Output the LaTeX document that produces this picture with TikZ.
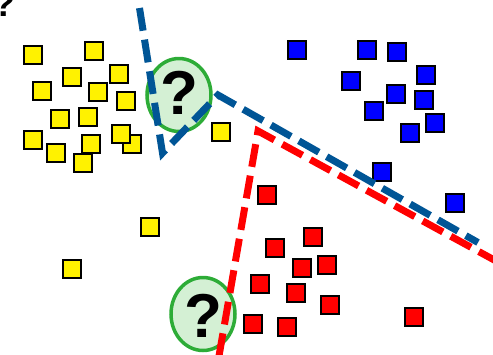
\documentclass[tikz,border=0pt]{standalone}
\usepackage{fontspec}
\setmainfont{Liberation Sans}
\usetikzlibrary{shapes.geometric}
\definecolor{bline}{RGB}{0,85,150}
\definecolor{qgreen}{RGB}{45,172,55}
\definecolor{qfill}{RGB}{212,240,212}
\begin{document}
\begin{tikzpicture}[x=1pt,y=-1pt,
  sq/.style={rectangle,draw=black,line width=2pt,minimum size=18pt,inner sep=0pt},
  ysq/.style={sq,fill=yellow},
  bsq/.style={sq,fill=blue},
  rsq/.style={sq,fill=red},
  guess/.style={ellipse,draw=qgreen,fill=qfill,line width=3.5pt,minimum width=64pt,minimum height=73pt,inner sep=0pt},
  qmark/.style={font=\fontsize{62}{62}\selectfont\bfseries,inner sep=0pt},
  bound/.style={line width=7pt,dash pattern=on 23pt off 9pt},
]
\useasboundingbox (0,0) rectangle (493,354);
% yellow squares
\node[ysq] (y1) at (33,55) {};
\node[ysq] (y2) at (94,51) {};
\node[ysq] (y3) at (72,77) {};
\node[ysq] (y4) at (119,74) {};
\node[ysq] (y5) at (42,91) {};
\node[ysq] (y6) at (98,92) {};
\node[ysq] (y7) at (126,101) {};
\node[ysq] (y8) at (60,119) {};
\node[ysq] (y9) at (88,117) {};
\node[ysq] (y10) at (33,140) {};
\node[ysq] (y11) at (56,153) {};
\node[ysq] (y12) at (91,144) {};
\node[ysq] (y13) at (83,163) {};
\node[ysq] (y14) at (132,144) {};
\node[ysq] (y15) at (121,134) {};
\node[ysq] (y16) at (221,132) {};
\node[ysq] (y17) at (150,227) {};
\node[ysq] (y18) at (72,269) {};
% blue squares
\node[bsq] (b1) at (297,50) {};
\node[bsq] (b2) at (367,50) {};
\node[bsq] (b3) at (397,52) {};
\node[bsq] (b4) at (426,75) {};
\node[bsq] (b5) at (351,81) {};
\node[bsq] (b6) at (396,94) {};
\node[bsq] (b7) at (424,100) {};
\node[bsq] (b8) at (374,111) {};
\node[bsq] (b9) at (435,123) {};
\node[bsq] (b10) at (410,133) {};
\node[bsq] (b11) at (382,172) {};
\node[bsq] (b12) at (455,203) {};
% red squares
\node[rsq] (r1) at (267,195) {};
\node[rsq] (r2) at (313,237) {};
\node[rsq] (r3) at (275,248) {};
\node[rsq] (r4) at (302,268) {};
\node[rsq] (r5) at (327,265) {};
\node[rsq] (r6) at (260,284) {};
\node[rsq] (r7) at (296,293) {};
\node[rsq] (r8) at (330,305) {};
\node[rsq] (r9) at (253,324) {};
\node[rsq] (r10) at (287,327) {};
\node[rsq] (r11) at (414,317) {};
% unknown points
\node[guess] (e1) at (179,95) {};
\node[guess] (e2) at (203,314) {};
\node[qmark] (q1) at (179.5,93) {?};
\node[qmark] (q2) at (203,316) {?};
\node[font=\fontsize{36}{36}\selectfont\bfseries,anchor=base west,inner sep=0pt] (q0) at (-7.1,16.7) {?};
% decision boundaries
\coordinate (rA) at (219,356);
\coordinate (rB) at (258,131);
\coordinate (rC) at (497,261.5);
\draw[bound,draw=red] (rA) -- (rB) -- (rC);
\coordinate (bA) at (139.5,8);
\coordinate (bB) at (162.5,153);
\coordinate (bC) at (218,95);
\coordinate (bD) at (478,242.5);
\draw[bound,draw=bline] (bA) -- (bB) -- (bC) -- (bD);
\end{tikzpicture}
\end{document}
